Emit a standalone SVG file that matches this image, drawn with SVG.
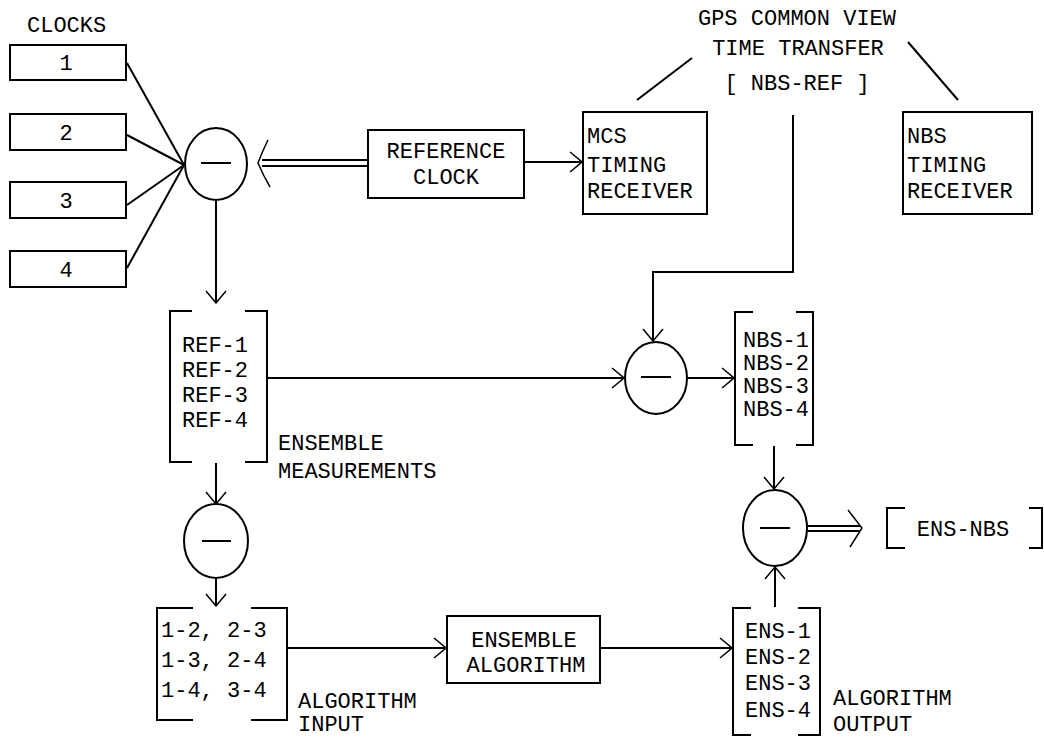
<svg xmlns="http://www.w3.org/2000/svg" width="1044" height="738" viewBox="0 0 1044 738">
<defs>
<style>
.t{font-family:"Liberation Mono","DejaVu Sans Mono",monospace;font-size:22px;fill:#000}
.m{text-anchor:middle}
.b{fill:none;stroke:#000;stroke-width:2}
.l{fill:none;stroke:#000;stroke-width:2}
.c{fill:#fff;stroke:#000;stroke-width:2}
.h{fill:none;stroke:#000;stroke-width:1.5}
</style>
<marker id="arr" viewBox="0 0 14 22" refX="13" refY="11" markerWidth="14" markerHeight="22" orient="auto" markerUnits="userSpaceOnUse">
<path d="M1,1 L13,11 L1,21" fill="none" stroke="#000" stroke-width="1.5"/>
</marker>
</defs>
<rect width="1044" height="738" fill="#fff"/>

<g id="connectors">
<line class="l" x1="127" y1="63" x2="184" y2="165"/>
<line class="l" x1="127" y1="135" x2="184" y2="165"/>
<line class="l" x1="127" y1="205" x2="184" y2="165"/>
<line class="l" x1="127" y1="268" x2="184" y2="165"/>
<line class="l" x1="262" y1="160" x2="368" y2="160"/>
<line class="l" x1="262" y1="166" x2="368" y2="166"/>
<path class="h" d="M268,140 Q262,152 258,163 Q263,175 270,187"/>
<line class="l" x1="216" y1="200" x2="216" y2="303" marker-end="url(#arr)"/>
<line class="l" x1="524" y1="162" x2="582" y2="162" marker-end="url(#arr)"/>
<line class="l" x1="637" y1="100" x2="692" y2="58"/>
<line class="l" x1="908" y1="42" x2="958" y2="100"/>
<polyline class="l" points="793,115 793,272 653,272 653,341" marker-end="url(#arr)"/>
<line class="l" x1="268" y1="378" x2="624" y2="378" marker-end="url(#arr)"/>
<line class="l" x1="687" y1="378" x2="734" y2="378" marker-end="url(#arr)"/>
<line class="l" x1="774" y1="446" x2="774" y2="489" marker-end="url(#arr)"/>
<line class="l" x1="807" y1="526" x2="860" y2="526"/>
<line class="l" x1="807" y1="531" x2="860" y2="531"/>
<path class="h" d="M848,510 L862,528 L850,547"/>
<line class="l" x1="216" y1="463" x2="216" y2="504" marker-end="url(#arr)"/>
<line class="l" x1="216" y1="578" x2="216" y2="606" marker-end="url(#arr)"/>
<line class="l" x1="288" y1="648" x2="446" y2="648" marker-end="url(#arr)"/>
<line class="l" x1="600" y1="648" x2="732" y2="648" marker-end="url(#arr)"/>
<line class="l" x1="775" y1="607" x2="775" y2="567" marker-end="url(#arr)"/>
</g>

<g id="clocks-label"><text class="t" x="27" y="32">CLOCKS</text></g>
<g id="clock1"><rect class="b" x="10" y="45" width="116" height="35"/><text class="t m" x="66" y="70">1</text></g>
<g id="clock2"><rect class="b" x="10" y="114" width="116" height="36"/><text class="t m" x="66" y="140">2</text></g>
<g id="clock3"><rect class="b" x="10" y="182" width="116" height="36"/><text class="t m" x="66" y="208">3</text></g>
<g id="clock4"><rect class="b" x="10" y="251" width="116" height="36"/><text class="t m" x="66" y="277">4</text></g>

<g id="diff1"><ellipse class="c" cx="216" cy="164" rx="31" ry="36"/><line class="l" x1="201" y1="163" x2="231" y2="163"/></g>

<g id="refclock"><rect class="b" x="368" y="130" width="156" height="68"/><text class="t m" x="446" y="158">REFERENCE</text><text class="t m" x="446" y="184">CLOCK</text></g>

<g id="mcs"><rect class="b" x="583" y="112" width="124" height="102"/><text class="t" x="587" y="143">MCS</text><text class="t" x="587" y="172">TIMING</text><text class="t" x="587" y="198">RECEIVER</text></g>

<g id="gps"><text class="t m" x="797" y="25">GPS COMMON VIEW</text><text class="t m" x="798" y="55">TIME TRANSFER</text><text class="t m" x="797" y="90">[ NBS-REF ]</text></g>

<g id="nbsrx"><rect class="b" x="903" y="112" width="129" height="102"/><text class="t" x="907" y="143">NBS</text><text class="t" x="907" y="172">TIMING</text><text class="t" x="907" y="198">RECEIVER</text></g>

<g id="refbracket">
<path class="b" d="M192,311 H170 V462 H192 M245,311 H267 V462 H245"/>
<text class="t" x="182" y="352">REF-1</text><text class="t" x="182" y="377">REF-2</text><text class="t" x="182" y="402">REF-3</text><text class="t" x="182" y="427">REF-4</text>
</g>
<g id="ensmeas-label"><text class="t" x="278" y="450">ENSEMBLE</text><text class="t" x="278" y="478">MEASUREMENTS</text></g>

<g id="diff2"><ellipse class="c" cx="656" cy="378" rx="31" ry="36"/><line class="l" x1="641" y1="377" x2="671" y2="377"/></g>

<g id="nbsbracket">
<path class="b" d="M753,312 H735 V445 H753 M796,312 H813 V445 H796"/>
<text class="t" x="743" y="347">NBS-1</text><text class="t" x="743" y="370">NBS-2</text><text class="t" x="743" y="393">NBS-3</text><text class="t" x="743" y="416">NBS-4</text>
</g>

<g id="diff3"><ellipse class="c" cx="775" cy="528" rx="32" ry="38"/><line class="l" x1="760" y1="528" x2="790" y2="528"/></g>

<g id="ensnbs">
<path class="b" d="M905,508 H887 V548 H905 M1029,508 H1042 V548 H1029"/>
<text class="t m" x="963" y="536">ENS-NBS</text>
</g>

<g id="diff4"><ellipse class="c" cx="216" cy="541" rx="32" ry="37"/><line class="l" x1="202" y1="541" x2="231" y2="541"/></g>

<g id="pairs">
<path class="b" d="M193,608 H157 V720 H193 M251,608 H287 V720 H251"/>
<text class="t" x="161" y="637">1-2, 2-3</text><text class="t" x="161" y="667">1-3, 2-4</text><text class="t" x="161" y="697">1-4, 3-4</text>
</g>
<g id="alginput-label"><text class="t" x="298" y="708">ALGORITHM</text><text class="t" x="298" y="731">INPUT</text></g>

<g id="ensalg"><rect class="b" x="447" y="616" width="153" height="67"/><text class="t m" x="524" y="647">ENSEMBLE</text><text class="t m" x="526" y="672">ALGORITHM</text></g>

<g id="ensbracket">
<path class="b" d="M751,608 H733 V735 H751 M798,608 H820 V735 H798"/>
<text class="t" x="745" y="638">ENS-1</text><text class="t" x="745" y="664">ENS-2</text><text class="t" x="745" y="690">ENS-3</text><text class="t" x="745" y="717">ENS-4</text>
</g>
<g id="algoutput-label"><text class="t" x="833" y="705">ALGORITHM</text><text class="t" x="833" y="731">OUTPUT</text></g>
</svg>
